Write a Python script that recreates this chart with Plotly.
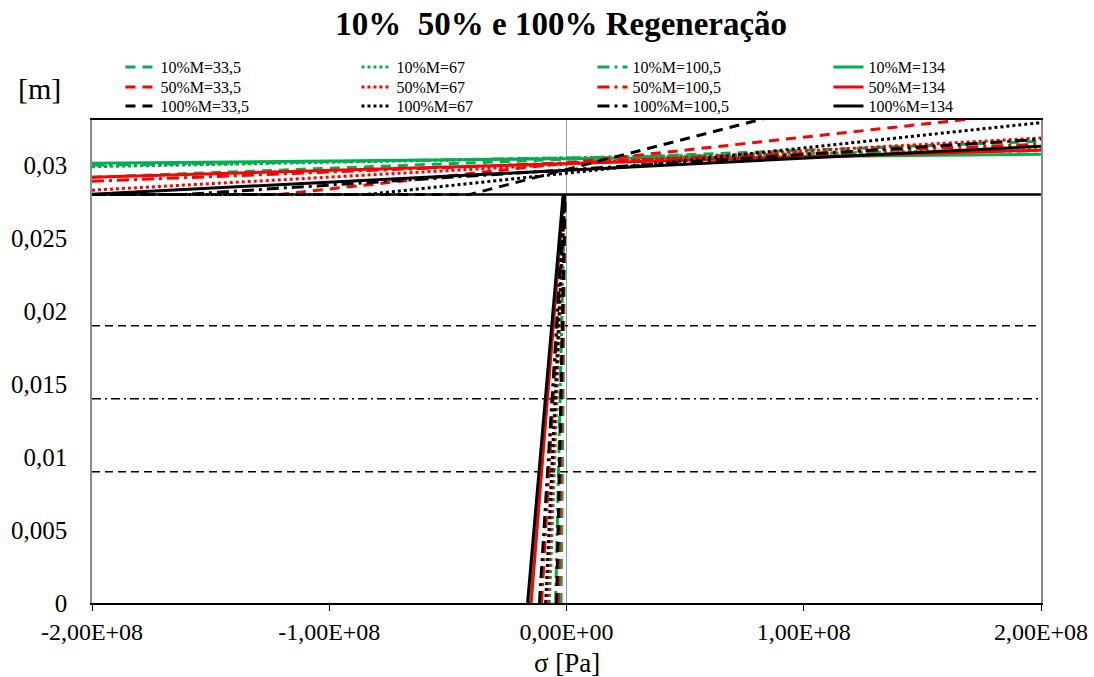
import plotly.graph_objects as go

# ---------------- data ----------------
series_labels = ["10%M=33,5", "10%M=67", "10%M=100,5", "10%M=134",
                 "50%M=33,5", "50%M=67", "50%M=100,5", "50%M=134",
                 "100%M=33,5", "100%M=67", "100%M=100,5", "100%M=134"]
series_regen = ["10%"] * 4 + ["50%"] * 4 + ["100%"] * 4
series_m = ["33,5", "67", "100,5", "134"] * 3

sigma_min = -2.0e8
sigma_max = 2.0e8

# lower (near-vertical) branch: sigma at y = 0 and at y = 0.028
lower_sigma_bottom = [-0.23e7, -0.72e7, -0.46e7, -1.52e7,
                      -0.34e7, -0.80e7, -1.05e7, -1.49e7,
                      -0.42e7, -0.88e7, -1.14e7, -1.64e7]
lower_sigma_top = [-0.06e7, -0.08e7, -0.08e7, -0.12e7,
                   -0.06e7, -0.08e7, -0.08e7, -0.12e7,
                   -0.06e7, -0.08e7, -0.08e7, -0.14e7]
lower_y_top = 0.028

# upper branch: value at sigma_min, knee where it leaves 0.028 (None if none), value at sigma_max
upper_left = [0.02918, 0.02990, 0.03000, 0.03014,
              0.02800, 0.02829, 0.02890, 0.02918,
              0.02800, 0.02800, 0.02800, 0.02802]
upper_knee = [None, None, None, None,
              -1.21e8, None, None, None,
              -4.07e7, -8.4e7, -1.61e8, None]
upper_right = [0.03164, 0.03110, 0.03100, 0.03075,
               0.03370, 0.03187, 0.03144, 0.03103,
               0.03810, 0.03292, 0.03178, 0.03130]

# horizontal reference lines
ref_levels = [0.028, 0.019, 0.014, 0.009]

x_tickvals = [-2e8, -1e8, 0, 1e8, 2e8]
x_ticktext = ["-2,00E+08", "-1,00E+08", "0,00E+00", "1,00E+08", "2,00E+08"]
y_tickvals = [0, 0.005, 0.01, 0.015, 0.02, 0.025, 0.03]
y_ticktext = ["0", "0,005", "0,01", "0,015", "0,02", "0,025", "0,03"]

# ---------------- styles ----------------
regen_color = {"10%": "#00B050", "50%": "#FF0000", "100%": "#000000"}
regen_legend = {"10%": "legend", "50%": "legend2", "100%": "legend3"}
m_dash = {"33,5": "10px,7px", "67": "3px,3px", "100,5": "12px,5px,3px,5px", "134": "solid"}
ref_style = [("solid", 2.5), ("8px,5px", 1.5), ("9px,4px,2px,4px", 1.5), ("8px,5px", 1.5)]

FONT = "Liberation Serif, Times New Roman, serif"

fig = go.Figure()

# reference horizontal lines
for lev, (dash, w) in zip(ref_levels, ref_style):
    fig.add_trace(go.Scatter(x=[sigma_min, sigma_max], y=[lev, lev], mode="lines",
                             line=dict(color="black", width=w, dash=dash),
                             showlegend=False, hoverinfo="skip"))

for i, name in enumerate(series_labels):
    xs = [lower_sigma_bottom[i], lower_sigma_top[i], None, sigma_min]
    ys = [0.0, lower_y_top, None, upper_left[i]]
    if upper_knee[i] is not None:
        xs.append(upper_knee[i])
        ys.append(upper_left[i])
    xs.append(sigma_max)
    ys.append(upper_right[i])
    fig.add_trace(go.Scatter(
        x=xs, y=ys, mode="lines", name=name, connectgaps=False,
        legend=regen_legend[series_regen[i]],
        line=dict(color=regen_color[series_regen[i]], width=3,
                  dash=m_dash[series_m[i]])))

leg_common = dict(orientation="h", x=0.03, xanchor="left", yanchor="middle",
                  entrywidth=191, entrywidthmode="pixels", itemwidth=30,
                  font=dict(family=FONT, size=16, color="black"),
                  bgcolor="rgba(0,0,0,0)", borderwidth=0)

fig.update_layout(
    width=1094, height=677,
    margin=dict(l=92, r=53, t=120, b=74, autoexpand=False),
    paper_bgcolor="white", plot_bgcolor="white",
    font=dict(family=FONT, color="black", size=24),
    title=dict(text="<b>10%  50% e 100% Regeneração</b>", x=0.513, xanchor="center",
               y=1 - 23 / 677, yanchor="middle", yref="container",
               font=dict(family=FONT, size=33, color="black")),
    legend=dict(y=1 + (120 - 67) / 483, **leg_common),
    legend2=dict(y=1 + (120 - 87) / 483, **leg_common),
    legend3=dict(y=1 + (120 - 106) / 483, **leg_common),
    showlegend=True,
)

fig.update_xaxes(range=[sigma_min, sigma_max], tickvals=x_tickvals, ticktext=x_ticktext,
                 ticks="outside", ticklen=6, tickcolor="black", tickwidth=1,
                 showline=True, linecolor="black", linewidth=1.5, mirror=True,
                 showgrid=False, zeroline=True, zerolinecolor="#9a9a9a", zerolinewidth=1,
                 automargin=False,
                 tickfont=dict(family=FONT, size=24))
fig.update_yaxes(range=[0, 0.0331], tickvals=y_tickvals, ticktext=y_ticktext,
                 ticks="", showline=True, linecolor="#8c8c8c", linewidth=1.5, mirror=True,
                 showgrid=False, zeroline=False, ticklabelstandoff=18, automargin=False,
                 tickfont=dict(family=FONT, size=25))

# x-axis title placed as an annotation just below the tick labels
fig.add_annotation(text="σ [Pa]", xref="paper", yref="paper", x=0.5, y=-(663 - 603) / 483,
                   xanchor="center", yanchor="middle", showarrow=False,
                   font=dict(family=FONT, size=27, color="black"))

fig.add_annotation(text="[m]", xref="paper", yref="paper", x=-0.055, y=1 + (120 - 88) / 483,
                   xanchor="center", yanchor="middle", showarrow=False,
                   font=dict(family=FONT, size=30, color="black"))

fig.write_html("out.html")
